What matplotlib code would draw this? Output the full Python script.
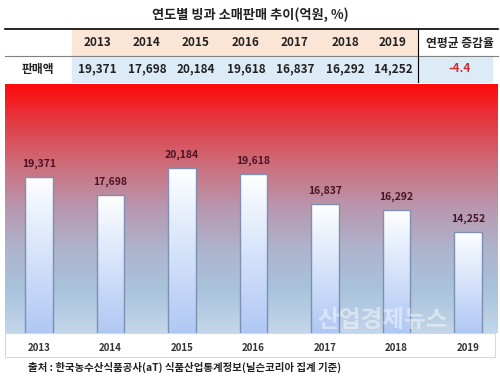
import numpy as np
import matplotlib.pyplot as plt
from matplotlib.colors import LinearSegmentedColormap
from matplotlib.patches import Rectangle

plt.rcParams['font.family'] = ['Noto Sans CJK KR', 'DejaVu Sans']

years = ["2013", "2014", "2015", "2016", "2017", "2018", "2019"]
sales = [19371, 17698, 20184, 19618, 16837, 16292, 14252]
avg_change = -4.4
title = "연도별 빙과 소매판매 추이(억원, %)"
row_label = "판매액"
avg_label = "연평균 증감율"
source = "출처 : 한국농수산식품공사(aT) 식품산업통계정보(닐슨코리아 집계 기준)"

W, H = 500, 383
fig = plt.figure(figsize=(W / 100, H / 100), dpi=100)
fig.patch.set_facecolor("white")


def fx(x):
    return x / W


def fy(y):
    return 1 - y / H


# title
fig.text(fx(250), fy(15), title, ha="center", va="center", fontsize=9.5,
         fontweight="bold", color="#222222")

# table backgrounds
fig.patches.append(Rectangle((fx(72), fy(56)), fx(418 - 72), 27 / H,
                             transform=fig.transFigure, color="#FBE5D6", zorder=-2))
fig.patches.append(Rectangle((fx(72), fy(82)), fx(492 - 72), 26 / H,
                             transform=fig.transFigure, color="#DDEBF7", zorder=-2))
fig.lines.append(plt.Line2D([fx(5), fx(498)], [fy(29), fy(29)], color="black",
                            lw=1.2, transform=fig.transFigure))
fig.lines.append(plt.Line2D([fx(5), fx(498)], [fy(56), fy(56)], color="#808080",
                            lw=0.8, transform=fig.transFigure))
fig.lines.append(plt.Line2D([fx(418), fx(418)], [fy(29), fy(82)], color="black",
                            lw=0.8, transform=fig.transFigure))

col_x = [97, 147, 196, 246, 295, 345, 393]
for x, yr, v in zip(col_x, years, sales):
    fig.text(fx(x), fy(43), yr, ha="center", va="center", fontsize=8.5,
             fontweight="bold", color="#222222")
    fig.text(fx(x), fy(69), f"{v:,}", ha="center", va="center", fontsize=8.5,
             fontweight="bold", color="#222222")
fig.text(fx(38), fy(69), row_label, ha="center", va="center", fontsize=8.5,
         fontweight="bold", color="#222222")
fig.text(fx(460), fy(43), avg_label, ha="center", va="center", fontsize=8.5,
         fontweight="bold", color="#222222")
fig.text(fx(460), fy(69), f"{avg_change}", ha="center", va="center", fontsize=8.5,
         fontweight="bold", color="#D03030")

# chart frame and label strip
fig.patches.append(Rectangle((fx(5), fy(357)), fx(490), 24 / H,
                             transform=fig.transFigure, facecolor="white",
                             edgecolor="#D8D8D8", lw=0.8, zorder=-2))

ax = fig.add_axes([fx(5), fy(333), fx(493), (333 - 84) / H])
x = np.arange(len(years))
ax.set_xlim(-0.476, 6.419)
ax.set_ylim(4890, 27970)

bg_cmap = LinearSegmentedColormap.from_list(
    "bg", ["#FF0A0A", "#E0404A", "#CC707E", "#B898B0", "#AEB4CE", "#A8C4DC", "#C4D6EA"])
grad = np.linspace(0, 1, 256).reshape(-1, 1)
ax.imshow(grad, aspect="auto", cmap=bg_cmap, extent=[-0.476, 6.419, 4890, 27970],
          origin="upper", zorder=0)

bar_cmap = LinearSegmentedColormap.from_list("bar", ["#FFFFFF", "#D6E3FA", "#B0C8F4"])
bars = ax.bar(x, sales, width=0.39, bottom=0, facecolor="none",
              edgecolor="#7F8FB0", lw=1.0, zorder=3)
for b, v in zip(bars, sales):
    im = ax.imshow(grad, aspect="auto", cmap=bar_cmap,
                   extent=[b.get_x(), b.get_x() + b.get_width(), 4890, v],
                   origin="upper", zorder=2)
    im.set_clip_path(b)
    ax.text(b.get_x() + b.get_width() / 2, v + 750, f"{v:,}", ha="center",
            va="bottom", fontsize=7.5, fontweight="bold", color="#4A1424", zorder=4)

ax.set_xlim(-0.476, 6.419)
ax.set_ylim(4890, 27970)
ax.set_xticks(x)
ax.set_xticklabels(years, fontsize=7, fontweight="bold", color="#333333")
ax.tick_params(axis="x", length=0, pad=7)
ax.set_yticks([])
for s in ax.spines.values():
    s.set_visible(False)

# watermark
fig.text(fx(383), fy(320), "산업경제뉴스", ha="center", va="center", fontsize=17,
         fontweight="bold", color="white", alpha=0.45, zorder=10)

fig.text(fx(28), fy(367), source, ha="left", va="center", fontsize=7.5,
         fontweight="bold", color="#222222")

fig.savefig("out.png", dpi=100)
